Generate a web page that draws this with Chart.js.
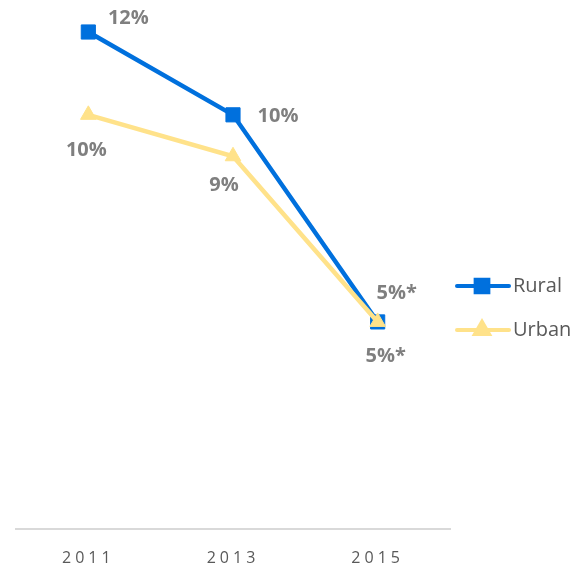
<!DOCTYPE html>
<html>
<head>
<meta charset="utf-8">
<script src="https://cdn.jsdelivr.net/npm/chart.js@4/dist/chart.umd.min.js"></script>
<style>
  html, body { margin: 0; padding: 0; background: #fff; }
  #wrap { width: 582px; height: 568px; position: relative; }
</style>
</head>
<body>
<div id="wrap"><canvas id="lineChart"></canvas></div>
<script>
const years = ["2011", "2013", "2015"];
const ruralValues = [12, 10, 5];
const urbanValues = [10, 9, 5];
const ruralLabels = ["12%", "10%", "5%*"];
const urbanLabels = ["10%", "9%", "5%*"];

const ruralColor = "#0070DD";
const urbanColor = "#FFE28A";

// label offsets relative to each point (px)
const ruralOffsets = [[40, -14], [45, 1], [19, -29]];
const urbanOffsets = [[-2, 35], [-9, 29], [8, 34]];

const tickSpacing = {
  id: 'tickSpacing',
  beforeDraw(chart) { chart.ctx.letterSpacing = '4px'; },
  beforeDatasetsDraw(chart) { chart.ctx.letterSpacing = '0px'; }
};

const valueLabels = {
  id: 'valueLabels',
  afterDatasetsDraw(chart) {
    const ctx = chart.ctx;
    ctx.save();
    ctx.font = 'bold 20px "Open Sans", sans-serif';
    ctx.fillStyle = '#7F7F7F';
    ctx.textAlign = 'center';
    ctx.textBaseline = 'middle';
    chart.data.datasets.forEach((ds, i) => {
      const meta = chart.getDatasetMeta(i);
      meta.data.forEach((pt, j) => {
        const off = ds.labelOffsets[j];
        ctx.fillText(ds.valueLabels[j], pt.x + off[0], pt.y + off[1]);
      });
    });
    ctx.restore();
  }
};

const sideLegend = {
  id: 'sideLegend',
  afterDraw(chart) {
    const ctx = chart.ctx;
    const items = [
      { label: 'Rural', color: ruralColor, style: 'rect', y: 286 },
      { label: 'Urban', color: urbanColor, style: 'triangle', y: 330 }
    ];
    ctx.save();
    items.forEach(it => {
      ctx.strokeStyle = it.color;
      ctx.lineWidth = 4;
      ctx.lineCap = 'round';
      ctx.beginPath();
      ctx.moveTo(457, it.y);
      ctx.lineTo(509, it.y);
      ctx.stroke();
      Chart.helpers.drawPoint(ctx, {
        pointStyle: it.style,
        radius: it.style === 'rect' ? 9 : 8,
        borderWidth: 1
      }, 482, it.y);
      ctx.fillStyle = it.color;
      ctx.fill();
      ctx.fillStyle = '#595959';
      ctx.font = '20px "Open Sans", sans-serif';
      ctx.textAlign = 'left';
      ctx.textBaseline = 'middle';
      ctx.fillText(it.label, 513, it.y);
    });
    ctx.restore();
  }
};

new Chart(document.getElementById('lineChart'), {
  type: 'line',
  data: {
    labels: years,
    datasets: [{
      label: 'Rural',
      data: ruralValues,
      valueLabels: ruralLabels,
      labelOffsets: ruralOffsets,
      borderColor: ruralColor,
      backgroundColor: ruralColor,
      borderWidth: 4.5,
      pointStyle: 'rect',
      pointRadius: 10,
      pointBorderWidth: 1,
      tension: 0,
      order: 1
    }, {
      label: 'Urban',
      data: urbanValues,
      valueLabels: urbanLabels,
      labelOffsets: urbanOffsets,
      borderColor: urbanColor,
      backgroundColor: urbanColor,
      borderWidth: 4.5,
      pointStyle: 'triangle',
      pointRadius: 9,
      pointBorderWidth: 1,
      tension: 0,
      order: 0
    }]
  },
  options: {
    responsive: true,
    maintainAspectRatio: false,
    animation: false,
    clip: false,
    layout: { padding: { left: 16, right: 132, top: 32, bottom: 0 } },
    scales: {
      y: { display: false, min: 0, max: 12 },
      x: {
        offset: true,
        grid: { display: false, drawTicks: false },
        border: { display: true, color: '#D9D9D9', width: 2 },
        ticks: {
          color: '#595959',
          font: { family: '"Open Sans", sans-serif', size: 16 },
          padding: 20
        },
        afterFit(scale) { scale.height = 39; }
      }
    },
    plugins: { legend: { display: false }, tooltip: { enabled: false } }
  },
  plugins: [tickSpacing, valueLabels, sideLegend]
});
</script>
</body>
</html>
